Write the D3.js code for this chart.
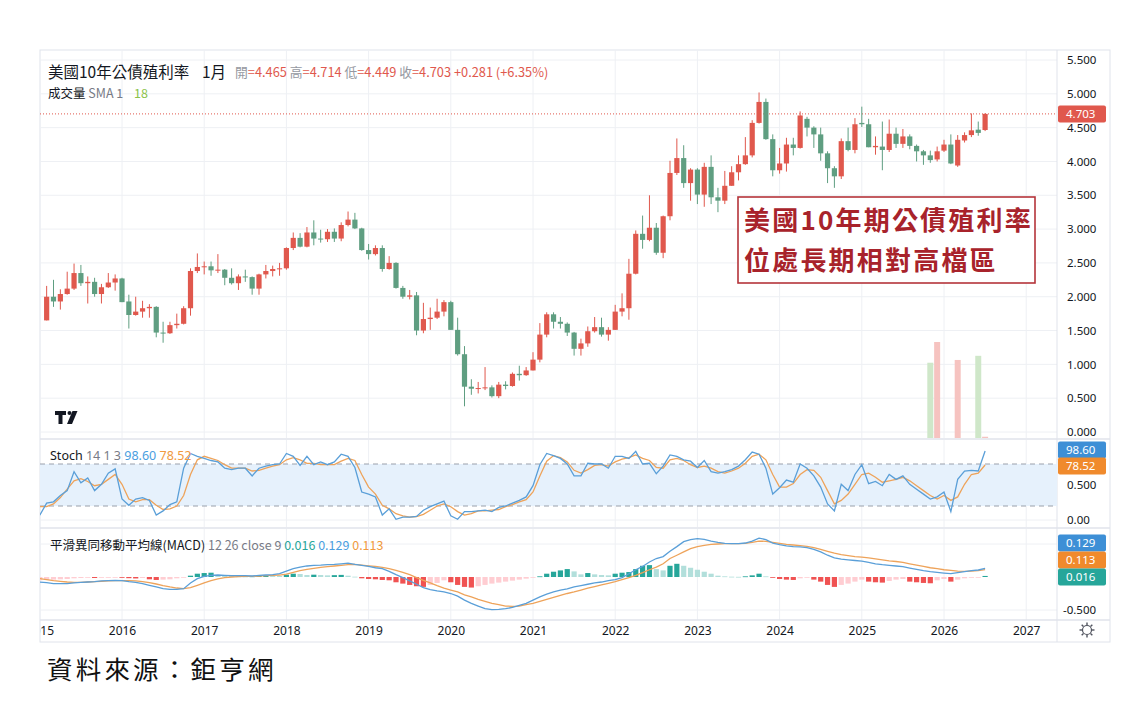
<!DOCTYPE html>
<html>
<head>
<meta charset="utf-8">
<script src="https://cdn.jsdelivr.net/npm/d3@7"></script>
<style>
body{margin:0;background:#fff;}
svg{display:block;}
</style>
</head>
<body>
<svg id="chart" width="1128" height="702"></svg>
<script>
// month index 0 = 2015-01, candles start at index 1 (2015-02)
const firstCandle = 1;
const yearLabels = ["2015","2016","2017","2018","2019","2020","2021","2022","2023","2024","2025","2026","2027"];
const priceTicks = [0,0.5,1,1.5,2,2.5,3,3.5,4,4.5,5,5.5];
const stochTicks = [0,50];
const stochTickLabels = ["0.00","0.500"];
const macdTicks = [-0.5];
const macdTickLabels = ["-0.500"];

const opens = [1.65,2.00,1.93,2.04,2.12,2.35,2.20,2.22,2.04,2.14,2.21,2.27,1.93,1.73,1.78,1.83,1.85,1.47,1.46,1.58,1.60,1.83,2.38,2.44,2.45,2.39,2.40,2.28,2.20,2.30,2.29,2.12,2.33,2.38,2.41,2.42,2.72,2.87,2.74,2.95,2.86,2.85,2.96,2.86,3.06,3.14,3.01,2.69,2.63,2.72,2.41,2.50,2.13,2.00,2.02,1.50,1.67,1.69,1.78,1.92,1.51,1.15,0.67,0.64,0.65,0.66,0.53,0.70,0.68,0.86,0.84,0.91,1.07,1.44,1.74,1.63,1.60,1.47,1.23,1.31,1.49,1.55,1.44,1.51,1.78,1.83,2.34,2.93,2.84,3.02,2.65,3.19,3.83,4.05,3.68,3.88,3.51,3.92,3.47,3.42,3.64,3.84,3.96,4.09,4.57,4.88,4.33,3.87,3.97,4.25,4.20,4.63,4.50,4.40,4.12,3.90,3.78,4.30,4.17,4.57,4.55,4.21,4.22,4.17,4.41,4.26,4.37,4.23,4.15,4.09,4.03,4.16,4.25,3.94,4.31,4.39,4.47,4.465];
const highs = [2.16,2.25,2.11,2.37,2.49,2.47,2.30,2.28,2.19,2.35,2.33,2.28,2.03,2.00,1.94,1.89,1.86,1.63,1.63,1.75,1.86,2.42,2.64,2.52,2.52,2.63,2.41,2.42,2.33,2.40,2.30,2.34,2.47,2.46,2.50,2.73,2.95,2.94,3.03,3.13,2.99,3.00,3.01,3.10,3.26,3.24,3.02,2.78,2.76,2.76,2.60,2.51,2.16,2.10,2.07,1.91,1.84,1.97,1.95,1.94,1.69,1.27,0.78,0.74,0.96,0.69,0.74,0.75,0.88,0.98,0.96,1.18,1.61,1.77,1.77,1.70,1.62,1.48,1.38,1.56,1.70,1.69,1.55,1.88,2.05,2.56,2.98,3.20,3.50,3.09,3.20,4.01,4.34,4.24,3.90,3.90,3.98,4.09,3.61,3.86,3.93,4.09,4.36,4.61,5.02,4.93,4.40,4.20,4.35,4.35,4.74,4.66,4.52,4.50,4.15,3.93,4.34,4.50,4.64,4.81,4.63,4.37,4.59,4.62,4.50,4.48,4.40,4.25,4.17,4.16,4.22,4.32,4.40,4.39,4.43,4.71,4.59,4.714];
const lows = [1.65,1.85,1.81,2.03,2.10,2.16,1.90,2.00,1.90,2.13,2.09,1.92,1.53,1.72,1.69,1.69,1.40,1.32,1.45,1.53,1.59,1.72,2.35,2.33,2.31,2.35,2.17,2.18,2.10,2.22,2.03,2.03,2.27,2.30,2.31,2.40,2.69,2.73,2.73,2.76,2.80,2.81,2.81,2.82,3.04,3.00,2.68,2.55,2.61,2.37,2.40,2.12,1.97,1.96,1.43,1.46,1.51,1.67,1.71,1.51,1.13,0.38,0.55,0.57,0.62,0.51,0.50,0.63,0.67,0.76,0.83,0.91,1.03,1.40,1.53,1.53,1.42,1.13,1.13,1.26,1.47,1.41,1.35,1.51,1.71,1.66,2.33,2.71,2.82,2.62,2.57,3.13,3.80,3.61,3.42,3.37,3.33,3.37,3.25,3.37,3.64,3.72,3.95,4.06,4.56,4.32,3.78,3.82,3.85,4.09,4.19,4.37,4.20,4.01,3.68,3.61,3.74,4.15,4.12,4.51,4.21,4.10,3.87,4.14,4.20,4.20,4.18,4.00,3.95,3.98,4.00,4.14,3.96,3.92,4.28,4.36,4.38,4.449];
const closes = [2.00,1.93,2.04,2.12,2.35,2.20,2.22,2.04,2.14,2.21,2.27,1.92,1.73,1.78,1.83,1.85,1.47,1.46,1.58,1.60,1.83,2.38,2.44,2.45,2.39,2.40,2.28,2.20,2.30,2.29,2.12,2.33,2.38,2.41,2.42,2.72,2.87,2.74,2.95,2.86,2.85,2.96,2.86,3.06,3.14,3.01,2.69,2.63,2.72,2.41,2.50,2.13,2.00,2.02,1.50,1.67,1.69,1.78,1.92,1.51,1.15,0.67,0.64,0.65,0.66,0.53,0.70,0.68,0.86,0.84,0.91,1.07,1.44,1.74,1.63,1.60,1.47,1.23,1.31,1.49,1.55,1.44,1.51,1.78,1.83,2.34,2.93,2.84,3.02,2.65,3.19,3.83,4.05,3.68,3.88,3.51,3.92,3.47,3.42,3.64,3.84,3.96,4.09,4.57,4.88,4.33,3.87,3.97,4.25,4.20,4.68,4.50,4.40,4.12,3.90,3.78,4.30,4.17,4.55,4.55,4.21,4.23,4.17,4.41,4.26,4.37,4.23,4.15,4.09,4.02,4.15,4.25,3.97,4.32,4.39,4.46,4.422,4.703];

// volume only shown for a few recent months
const volMonths = [130,131,134,137,138];
const volValues = [1090,1390,1130,1190,18];

// indicators, month index 0..138
const stochK = [7,24,26,35,42,69,53,60,42,51,67,73,30,21,30,32,28,7,13,22,26,74,95,91,88,85,83,74,72,74,74,63,74,77,79,80,95,91,78,91,79,83,79,83,94,91,75,40,37,33,7,16,1,4,4,5,14,19,23,27,6,1,12,12,13,14,12,18,20,24,28,33,49,79,95,92,88,80,63,63,81,80,80,74,91,91,88,98,80,81,66,77,93,91,86,84,75,85,69,67,69,72,77,86,97,94,74,37,46,57,54,80,74,63,47,23,13,51,42,65,79,52,55,49,65,58,63,51,44,37,30,33,40,12,58,70,71,70,98.6];
const stochD = [19,19,23,32,44,56,59,55,49,51,58,65,51,30,26,29,29,21,15,16,20,35,65,86,91,88,85,79,74,74,74,70,71,74,77,79,86,89,86,81,81,79,79,79,84,88,85,65,47,37,21,16,9,6,4,5,8,14,20,23,19,12,7,9,13,13,14,15,19,22,26,29,40,63,84,92,89,83,71,67,72,78,79,77,83,87,89,93,88,85,75,74,86,88,85,79,75,77,74,69,67,70,74,81,91,94,86,65,47,47,52,65,72,71,61,42,23,28,37,51,65,67,61,54,56,58,61,56,49,42,35,30,35,28,33,51,65,67,78.52];
const macdLine = [-0.076,-0.086,-0.10,-0.10,-0.10,-0.09,-0.08,-0.076,-0.07,-0.06,-0.056,-0.05,-0.056,-0.07,-0.08,-0.10,-0.126,-0.15,-0.177,-0.187,-0.187,-0.177,-0.09,-0.025,0.01,0.025,0.03,0.025,0.02,0.02,0.02,0.015,0.025,0.03,0.035,0.05,0.09,0.126,0.15,0.167,0.177,0.18,0.187,0.19,0.2,0.21,0.19,0.177,0.16,0.14,0.126,0.086,0.035,-0.01,-0.06,-0.11,-0.16,-0.19,-0.21,-0.227,-0.25,-0.29,-0.35,-0.40,-0.44,-0.48,-0.495,-0.49,-0.48,-0.46,-0.43,-0.40,-0.35,-0.30,-0.26,-0.227,-0.20,-0.18,-0.15,-0.13,-0.11,-0.09,-0.076,-0.056,-0.04,-0.01,0.05,0.11,0.16,0.227,0.28,0.31,0.39,0.46,0.535,0.566,0.58,0.57,0.545,0.525,0.51,0.505,0.505,0.515,0.545,0.59,0.566,0.515,0.49,0.47,0.46,0.455,0.444,0.42,0.38,0.33,0.29,0.27,0.26,0.25,0.24,0.22,0.2,0.187,0.177,0.167,0.157,0.136,0.116,0.096,0.08,0.07,0.06,0.05,0.066,0.08,0.096,0.106,0.129];
const signalLine = [-0.025,-0.04,-0.055,-0.065,-0.076,-0.08,-0.08,-0.076,-0.07,-0.066,-0.06,-0.056,-0.056,-0.056,-0.06,-0.07,-0.086,-0.106,-0.13,-0.15,-0.167,-0.177,-0.16,-0.126,-0.09,-0.056,-0.03,-0.01,0.0,0.005,0.01,0.01,0.015,0.02,0.025,0.03,0.045,0.07,0.096,0.116,0.13,0.146,0.157,0.167,0.177,0.187,0.19,0.18,0.17,0.16,0.146,0.126,0.10,0.07,0.035,-0.01,-0.05,-0.09,-0.13,-0.167,-0.197,-0.227,-0.27,-0.30,-0.34,-0.37,-0.40,-0.42,-0.44,-0.444,-0.44,-0.42,-0.40,-0.37,-0.34,-0.31,-0.28,-0.25,-0.227,-0.197,-0.17,-0.146,-0.12,-0.096,-0.07,-0.04,-0.01,0.025,0.066,0.11,0.15,0.2,0.28,0.33,0.38,0.43,0.46,0.48,0.495,0.5,0.505,0.505,0.505,0.51,0.525,0.545,0.54,0.525,0.51,0.495,0.485,0.475,0.465,0.444,0.42,0.39,0.36,0.34,0.325,0.31,0.3,0.29,0.275,0.26,0.245,0.235,0.22,0.2,0.18,0.16,0.14,0.126,0.11,0.1,0.09,0.085,0.09,0.096,0.113];
const macdHist = [-0.05,-0.045,-0.04,-0.035,-0.03,-0.02,-0.015,-0.01,-0.015,-0.01,-0.008,-0.006,-0.012,-0.018,-0.022,-0.015,-0.035,-0.045,-0.04,-0.035,-0.02,-0.005,0.02,0.05,0.06,0.065,0.03,0.02,0.015,0.01,0.008,0.005,0.02,0.025,0.02,0.015,0.035,0.05,0.045,0.03,0.035,0.03,0.025,0.028,0.032,0.02,0.005,-0.02,-0.03,-0.035,-0.045,-0.05,-0.08,-0.1,-0.12,-0.14,-0.15,-0.12,-0.09,-0.05,-0.08,-0.12,-0.15,-0.16,-0.14,-0.12,-0.1,-0.085,-0.07,-0.055,-0.04,-0.025,-0.01,0.01,0.05,0.08,0.1,0.12,0.085,0.04,0.06,0.04,0.03,0.025,0.05,0.065,0.075,0.12,0.17,0.18,0.12,0.1,0.17,0.2,0.17,0.14,0.11,0.08,0.05,0.02,0.01,0.005,0.003,0.01,0.025,0.05,0.01,-0.01,-0.03,-0.04,-0.045,-0.02,-0.01,-0.04,-0.07,-0.12,-0.15,-0.12,-0.1,-0.07,-0.04,-0.07,-0.08,-0.085,-0.06,-0.04,-0.03,-0.07,-0.08,-0.09,-0.095,-0.05,-0.03,-0.07,-0.04,-0.02,-0.01,-0.005,0.016];

const FONT = "'Noto Sans','Noto Sans CJK TC',sans-serif";
const CJK = "'Noto Sans CJK TC','Noto Sans',sans-serif";
const UP = "#e0584d", DOWN = "#5f9e81";
const TXT = "#131722", GRID = "#eef0f4", BORDER = "#e0e3eb";

const plotL = 40, plotR = 1057;
const main = {top: 50, bottom: 438};
const stoch = {top: 440, bottom: 527};
const macdP = {top: 529, bottom: 620};

const svg = d3.select("#chart");

const x = d3.scaleLinear().domain([12, 144]).range([122, 1026.2]);
const y = d3.scaleLinear().domain([0, 5.5]).range([432, 60]);
const yVol = d3.scaleLinear().domain([0, 1390]).range([438, 342]);
const yS = d3.scaleLinear().domain([0, 100]).range([520, 450]);
const yM = d3.scaleLinear().domain([-0.5, 0.5]).range([610, 544]);

// clip paths
const defs = svg.append("defs");
[["clipMain", main], ["clipStoch", stoch], ["clipMacd", macdP]].forEach(([id, p]) => {
  defs.append("clipPath").attr("id", id).append("rect")
    .attr("x", plotL).attr("y", p.top).attr("width", plotR - plotL).attr("height", p.bottom - p.top);
});
defs.append("clipPath").attr("id", "clipAxis").append("rect")
  .attr("x", plotL).attr("y", 620).attr("width", 1110 - plotL).attr("height", 24);

// frame
svg.append("rect").attr("x", plotL).attr("y", 50).attr("width", 1110 - plotL).attr("height", 592)
  .attr("fill", "none").attr("stroke", BORDER);

// vertical grid
const yearIdx = yearLabels.map((d, i) => i * 12);
[main, stoch, macdP].forEach(p => {
  svg.append("g").selectAll("line").data(yearIdx.filter(m => x(m) > plotL)).join("line")
    .attr("x1", d => x(d)).attr("x2", d => x(d))
    .attr("y1", p.top).attr("y2", p.bottom)
    .attr("stroke", GRID);
});
// horizontal grid
svg.append("g").selectAll("line").data(priceTicks).join("line")
  .attr("x1", plotL).attr("x2", plotR).attr("y1", d => y(d)).attr("y2", d => y(d)).attr("stroke", GRID);
svg.append("g").selectAll("line").data(stochTicks).join("line")
  .attr("x1", plotL).attr("x2", plotR).attr("y1", d => yS(d)).attr("y2", d => yS(d)).attr("stroke", GRID);
svg.append("g").selectAll("line").data([-0.5, 0.5]).join("line")
  .attr("x1", plotL).attr("x2", plotR).attr("y1", d => yM(d)).attr("y2", d => yM(d)).attr("stroke", GRID);

// pane separators
[439, 528, 620].forEach(v => svg.append("line").attr("x1", plotL).attr("x2", 1110)
  .attr("y1", v).attr("y2", v).attr("stroke", BORDER).attr("stroke-width", 1.5));
svg.append("line").attr("x1", plotR).attr("x2", plotR).attr("y1", 50).attr("y2", 642).attr("stroke", BORDER);

// ---- main pane
const gMain = svg.append("g").attr("clip-path", "url(#clipMain)");

// volume
gMain.append("g").selectAll("rect").data(volMonths).join("rect")
  .attr("x", d => x(d) - 3).attr("width", 6)
  .attr("y", (d, i) => yVol(volValues[i])).attr("height", (d, i) => yVol(0) - yVol(volValues[i]))
  .attr("fill", d => {
    const i = d - firstCandle;
    return closes[i] >= opens[i] ? "#f6c3c0" : "#cfe7c9";
  });

// last price line
gMain.append("line").attr("x1", plotL).attr("x2", plotR)
  .attr("y1", y(closes[closes.length - 1])).attr("y2", y(closes[closes.length - 1]))
  .attr("stroke", UP).attr("stroke-dasharray", "1,2");

const candles = opens.map((o, i) => ({m: i + firstCandle, o: o, h: highs[i], l: lows[i], c: closes[i]}));
const cg = gMain.append("g").selectAll("g").data(candles).join("g");
cg.append("line")
  .attr("x1", d => x(d.m)).attr("x2", d => x(d.m))
  .attr("y1", d => y(d.h)).attr("y2", d => y(d.l))
  .attr("stroke", d => d.c >= d.o ? UP : DOWN).attr("stroke-width", 1);
cg.append("rect")
  .attr("x", d => x(d.m) - 2.6).attr("width", 5.2)
  .attr("y", d => y(Math.max(d.o, d.c)))
  .attr("height", d => Math.max(1, Math.abs(y(d.o) - y(d.c))))
  .attr("fill", d => d.c >= d.o ? UP : DOWN);

// TV logo
const logo = svg.append("g").attr("fill", "#131722");
logo.append("path").attr("d", "M55,411 h11 v4 h-3.5 v9 h-4 v-9 h-3.5z");
logo.append("circle").attr("cx", 69.5).attr("cy", 413).attr("r", 2);
logo.append("path").attr("d", "M72.5,411 h5 l-5.5,13 h-5z");

// header
const hdr = svg.append("g").attr("font-family", CJK);
hdr.append("text").attr("x", 48).attr("y", 78).attr("font-size", 15.5).attr("fill", TXT).text("美國10年公債殖利率");
hdr.append("text").attr("x", 202).attr("y", 78).attr("font-size", 15.5).attr("fill", TXT).text("1月");
const ohlcLbl = ["開", "高", "低", "收"];
const ohlcVal = ["=4.465", "=4.714", "=4.449", "=4.703"];
const oh = hdr.append("text").attr("x", 235).attr("y", 77).attr("font-size", 12.8);
ohlcLbl.forEach((l, i) => {
  oh.append("tspan").attr("fill", "#9598a1").text(l);
  oh.append("tspan").attr("fill", UP).text(ohlcVal[i] + " ");
});
oh.append("tspan").attr("fill", UP).text("+0.281 (+6.35%)");
const vl = hdr.append("text").attr("x", 48).attr("y", 98).attr("font-size", 12.5);
vl.append("tspan").attr("fill", TXT).text("成交量 ");
vl.append("tspan").attr("fill", "#787b86").text("SMA 1");
hdr.append("text").attr("x", 134).attr("y", 98).attr("font-size", 12.5).attr("fill", "#8bc34a").text("18");

// ---- stoch pane
const gS = svg.append("g").attr("clip-path", "url(#clipStoch)");
gS.append("rect").attr("x", plotL).attr("width", plotR - plotL)
  .attr("y", yS(80)).attr("height", yS(20) - yS(80)).attr("fill", "#e6f1fc");
[80, 20].forEach(v => gS.append("line").attr("x1", plotL).attr("x2", plotR)
  .attr("y1", yS(v)).attr("y2", yS(v)).attr("stroke", "#9aa0ab").attr("stroke-dasharray", "5,4"));
const lineS = d3.line().x((d, i) => x(i)).y(d => yS(d));
gS.append("path").datum(stochD).attr("d", lineS).attr("fill", "none").attr("stroke", "#eea35a").attr("stroke-width", 1.3);
gS.append("path").datum(stochK).attr("d", lineS).attr("fill", "none").attr("stroke", "#5a9fd8").attr("stroke-width", 1.3);

const sh = svg.append("text").attr("x", 50).attr("y", 460).attr("font-size", 12.5).attr("font-family", FONT);
sh.append("tspan").attr("fill", TXT).text("Stoch ");
sh.append("tspan").attr("fill", "#787b86").text("14 1 3  ");
sh.append("tspan").attr("fill", "#4a9ee0").text("98.60  ");
sh.append("tspan").attr("fill", "#f09a40").text("78.52");

// ---- MACD pane
const gM = svg.append("g").attr("clip-path", "url(#clipMacd)");
gM.append("g").selectAll("rect").data(macdHist).join("rect")
  .attr("x", (d, i) => x(i) - 2.6).attr("width", 5.2)
  .attr("y", d => yM(Math.max(0, d))).attr("height", d => Math.max(0.8, Math.abs(yM(d) - yM(0))))
  .attr("fill", (d, i) => {
    const p = i > 0 ? macdHist[i - 1] : d;
    if (d >= 0) return d > p ? "#26a69a" : "#b2dfdb";
    return d < p ? "#f05252" : "#ffcdd2";
  });
const lineM = d3.line().x((d, i) => x(i)).y(d => yM(d));
gM.append("path").datum(signalLine).attr("d", lineM).attr("fill", "none").attr("stroke", "#eea35a").attr("stroke-width", 1.3);
gM.append("path").datum(macdLine).attr("d", lineM).attr("fill", "none").attr("stroke", "#5a9fd8").attr("stroke-width", 1.3);

const mh = svg.append("text").attr("x", 50).attr("y", 550).attr("font-size", 12.5).attr("font-family", CJK);
mh.append("tspan").attr("fill", TXT).text("平滑異同移動平均線(MACD) ");
mh.append("tspan").attr("fill", "#787b86").text("12 26 close 9  ");
mh.append("tspan").attr("fill", "#26a69a").text("0.016  ");
mh.append("tspan").attr("fill", "#4a9ee0").text("0.129  ");
mh.append("tspan").attr("fill", "#f09a40").text("0.113");

// ---- right axes
const axStyle = g => {
  g.select(".domain").remove();
  g.selectAll("text").attr("font-family", FONT).attr("font-size", 11.5).attr("fill", TXT);
};
svg.append("g").attr("transform", "translate(1060,0)")
  .call(d3.axisRight(y).tickValues(priceTicks).tickSize(0).tickPadding(7).tickFormat(d3.format(".3f")))
  .call(axStyle);
svg.append("g").attr("transform", "translate(1060,0)")
  .call(d3.axisRight(yS).tickValues(stochTicks).tickSize(0).tickPadding(7).tickFormat((d, i) => stochTickLabels[i]))
  .call(axStyle);
svg.append("g").attr("transform", "translate(1060,0)")
  .call(d3.axisRight(yM).tickValues(macdTicks).tickSize(0).tickPadding(3).tickFormat((d, i) => macdTickLabels[i]))
  .call(axStyle);

// value boxes
const boxes = [
  {txt: "4.703", cy: 114, fill: UP},
  {txt: "98.60", cy: 450, fill: "#3d8fd6"},
  {txt: "78.52", cy: 466, fill: "#f08a2c"},
  {txt: "0.129", cy: 543, fill: "#3d8fd6"},
  {txt: "0.113", cy: 560, fill: "#f08a2c"},
  {txt: "0.016", cy: 577, fill: "#26a69a"}
];
const bx = svg.append("g").selectAll("g").data(boxes).join("g");
bx.append("rect").attr("x", 1058).attr("width", 48).attr("y", d => d.cy - 8.5).attr("height", 17)
  .attr("rx", 2).attr("fill", d => d.fill);
bx.append("text").attr("x", 1066).attr("y", d => d.cy + 4.2).attr("font-size", 11.5)
  .attr("font-family", FONT).attr("fill", "#fff").text(d => d.txt);

// ---- time axis
svg.append("g").attr("clip-path", "url(#clipAxis)")
  .append("g").attr("transform", "translate(0,624)")
  .call(d3.axisBottom(x).tickValues(yearIdx).tickSize(0).tickPadding(2).tickFormat((d, i) => yearLabels[i]))
  .call(g => {
    g.select(".domain").remove();
    g.selectAll("text").attr("font-family", FONT).attr("font-size", 12).attr("fill", TXT);
  });

// gear icon
const gear = svg.append("g").attr("transform", "translate(1087,630)").attr("stroke", "#50535e").attr("fill", "none");
gear.append("circle").attr("r", 4.5).attr("stroke-width", 1.2);
d3.range(8).forEach(k => {
  const a = k * Math.PI / 4;
  gear.append("line").attr("x1", Math.cos(a) * 5).attr("y1", Math.sin(a) * 5)
    .attr("x2", Math.cos(a) * 7.5).attr("y2", Math.sin(a) * 7.5).attr("stroke-width", 1.4);
});

// annotation box
const ann = svg.append("g");
ann.append("rect").attr("x", 738).attr("y", 197).attr("width", 297).attr("height", 86)
  .attr("fill", "#fff").attr("stroke", "#b5343a").attr("stroke-width", 1.6);
const annLines = ["美國10年期公債殖利率", "位處長期相對高檔區"];
ann.selectAll("text").data(annLines).join("text")
  .attr("x", 744).attr("y", (d, i) => 230 + i * 40)
  .attr("font-family", CJK).attr("font-size", 26).attr("font-weight", 700)
  .attr("letter-spacing", 2.2).attr("fill", "#a8232b").text(d => d);

// source
svg.append("text").attr("x", 47).attr("y", 679).attr("font-family", CJK).attr("font-size", 25.5)
  .attr("letter-spacing", 3.2).attr("fill", "#111").text("資料來源：鉅亨網");
</script>
</body>
</html>
